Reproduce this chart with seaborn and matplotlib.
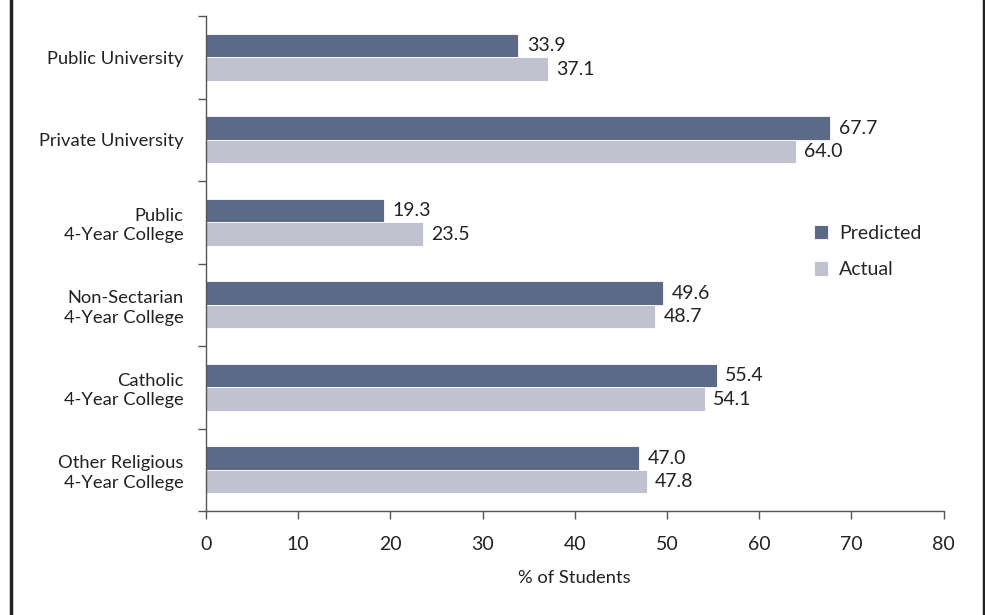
import pandas as pd
import numpy as np
import seaborn as sns
import matplotlib.pyplot as plt
from matplotlib.lines import Line2D

categories = ['Public University', 'Private University', 'Public\n4-Year College',
              'Non-Sectarian\n4-Year College', 'Catholic\n4-Year College',
              'Other Religious\n4-Year College']
predicted = [33.9, 67.7, 19.3, 49.6, 55.4, 47.0]
actual = [37.1, 64.0, 23.5, 48.7, 54.1, 47.8]
series_names = ['Predicted', 'Actual']
colors = ['#5b6a86', '#c0c2d0']
x_ticks = [0, 10, 20, 30, 40, 50, 60, 70, 80]

df = pd.DataFrame({
    'category': categories * 2,
    'value': predicted + actual,
    'series': [series_names[0]] * len(categories) + [series_names[1]] * len(categories),
})

sns.set_style('white')
plt.rcParams['font.family'] = ['Lato', 'DejaVu Sans']

fig = plt.figure(figsize=(9.85, 6.15), dpi=100)
ax = fig.add_axes([0.209, 0.169, 0.749, 0.805])

sns.barplot(data=df, y='category', x='value', hue='series', orient='h',
            palette=colors, width=0.57, edgecolor='white', linewidth=0.6,
            saturation=1, ax=ax)

for c in ax.containers:
    ax.bar_label(c, fmt='%.1f', padding=6, fontsize=14, color='#222222')

ax.set_xlim(0, 80)
ax.set_ylim(len(categories) - 0.5, -0.5)
ax.set_xticks(x_ticks)
ax.set_yticks(range(len(categories)))
ax.set_yticklabels(categories, fontsize=13.2, ha='right', color='#222222', linespacing=1.25)
ax.set_yticks(np.arange(-0.5, len(categories)), minor=True)
ax.tick_params(axis='y', which='major', length=0, pad=16)
ax.tick_params(axis='y', which='minor', length=6, width=1, color='#555555', left=True)
ax.tick_params(axis='x', length=6, width=1, color='#555555', bottom=True,
               labelsize=14, labelcolor='#222222', pad=12)
ax.set_xlabel('% of Students', fontsize=13.2, color='#222222', labelpad=12)
ax.set_ylabel('')

sns.despine(ax=ax)
for s in ['left', 'bottom']:
    ax.spines[s].set_color('#555555')
    ax.spines[s].set_linewidth(1)

ax.legend(loc='center left', bbox_to_anchor=(0.80, 0.524), frameon=False,
          fontsize=14, handlelength=0.75, handleheight=0.75, labelspacing=1.0,
          handletextpad=0.55)

fig.add_artist(Line2D([0.0115, 0.0115], [0, 1], color='#222222', lw=2.5, transform=fig.transFigure))
fig.add_artist(Line2D([0.9985, 0.9985], [0, 1], color='#222222', lw=2.5, transform=fig.transFigure))

fig.savefig('out.png', dpi=100)
